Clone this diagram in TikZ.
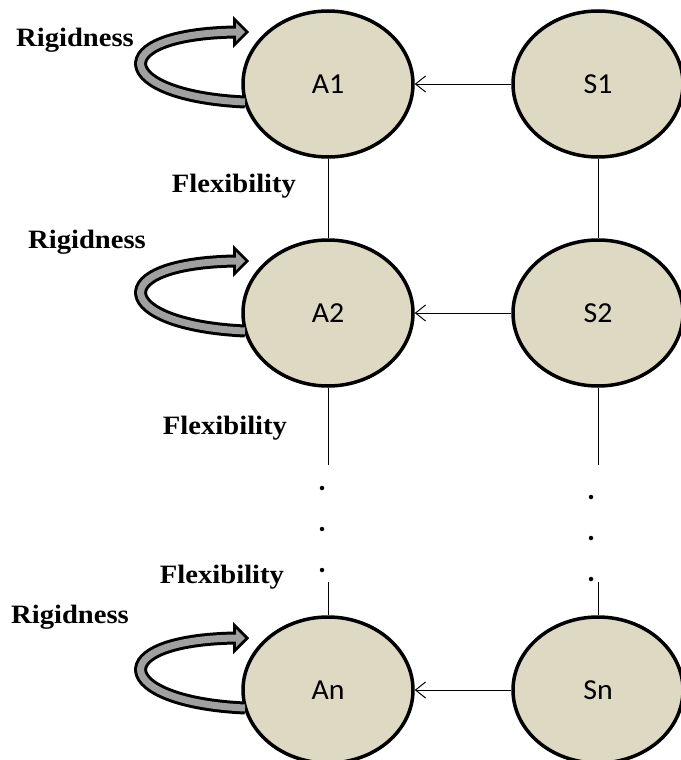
\documentclass[tikz,border=0pt]{standalone}
\usepackage{fontspec}
\usetikzlibrary{arrows.meta,shapes.geometric,positioning}
\newfontfamily\labelfont[FakeStretch=1.08]{Liberation Serif}
\newfontfamily\nodefont[FakeStretch=1.03]{Carlito}
\definecolor{bubblefill}{HTML}{DDD9C3}
\definecolor{loopgray}{RGB}{160,160,160}

\tikzset{
  bubble/.style={ellipse,draw,line width=3.5pt,fill=bubblefill,
    minimum width=170pt,minimum height=146pt,inner sep=0pt,
    font=\nodefont\fontsize{29}{33}\selectfont},
  lbl/.style={font=\labelfont\bfseries\fontsize{26.5}{30}\selectfont,inner sep=0pt},
  link/.style={line width=1pt},
  dotnode/.style={circle,fill,inner sep=0pt,minimum size=4.5pt}
}

\begin{document}
\begin{tikzpicture}[x=1pt,y=-1pt,>={Straight Barb[length=10pt,width=16pt]}]
  \useasboundingbox (0,0) rectangle (680,760);

  % agents and sources
  \node[bubble] (A1) at (328,84) {A1};
  \node[bubble] (S1) at (598,84) {S1};
  \node[bubble] (A2) at (328,313) {A2};
  \node[bubble] (S2) at (598,313) {S2};
  \node[bubble] (An) at (328,690) {An};
  \node[bubble] (Sn) at (598,690) {Sn};

  % links
  \draw[link,->] (S1) -- (A1);
  \draw[link,->] (S2) -- (A2);
  \draw[link,->] (Sn) -- (An);
  \draw[link] (A1) -- (A2);
  \draw[link] (S1) -- (S2);
  \coordinate (A2end) at (328,465);
  \coordinate (S2end) at (598,465);
  \coordinate (Anstart) at (328,582);
  \coordinate (Snstart) at (598,582);
  \draw[link] (A2) -- (A2end);
  \draw[link] (S2) -- (S2end);
  \draw[link] (Anstart) -- (An);
  \draw[link] (Snstart) -- (Sn);

  % dots
  \foreach \y [count=\i] in {488,529,570}
    \node[dotnode] (adot\i) at (322,\y) {};
  \foreach \y [count=\i] in {497,538,579}
    \node[dotnode] (sdot\i) at (591,\y) {};

  % rigidness loops
  \foreach \n in {A1,A2,An} {
    \begin{scope}[shift={(\n.center)}]
      \draw[line width=13pt] (-83,18) .. controls (-215,12) and (-226,-50) .. (-92,-52);
      \filldraw[line width=6pt,line join=miter] (-92,-61) -- (-83,-52) -- (-92,-43) -- cycle;
      \draw[line width=7pt,loopgray] (-83,18) .. controls (-215,12) and (-226,-50) .. (-92,-52) -- (-88,-52);
      \fill[loopgray] (-92,-61) -- (-83,-52) -- (-92,-43) -- cycle;
    \end{scope}
  }

  % labels
  \node[lbl] (rig1) at (75,40) {Rigidness};
  \node[lbl] (rig2) at (87,242) {Rigidness};
  \node[lbl] (rig3) at (70,617) {Rigidness};
  \node[lbl] (flex1) at (234,186) {Flexibility};
  \node[lbl] (flex2) at (225,428) {Flexibility};
  \node[lbl] (flex3) at (222,577) {Flexibility};
\end{tikzpicture}
\end{document}
